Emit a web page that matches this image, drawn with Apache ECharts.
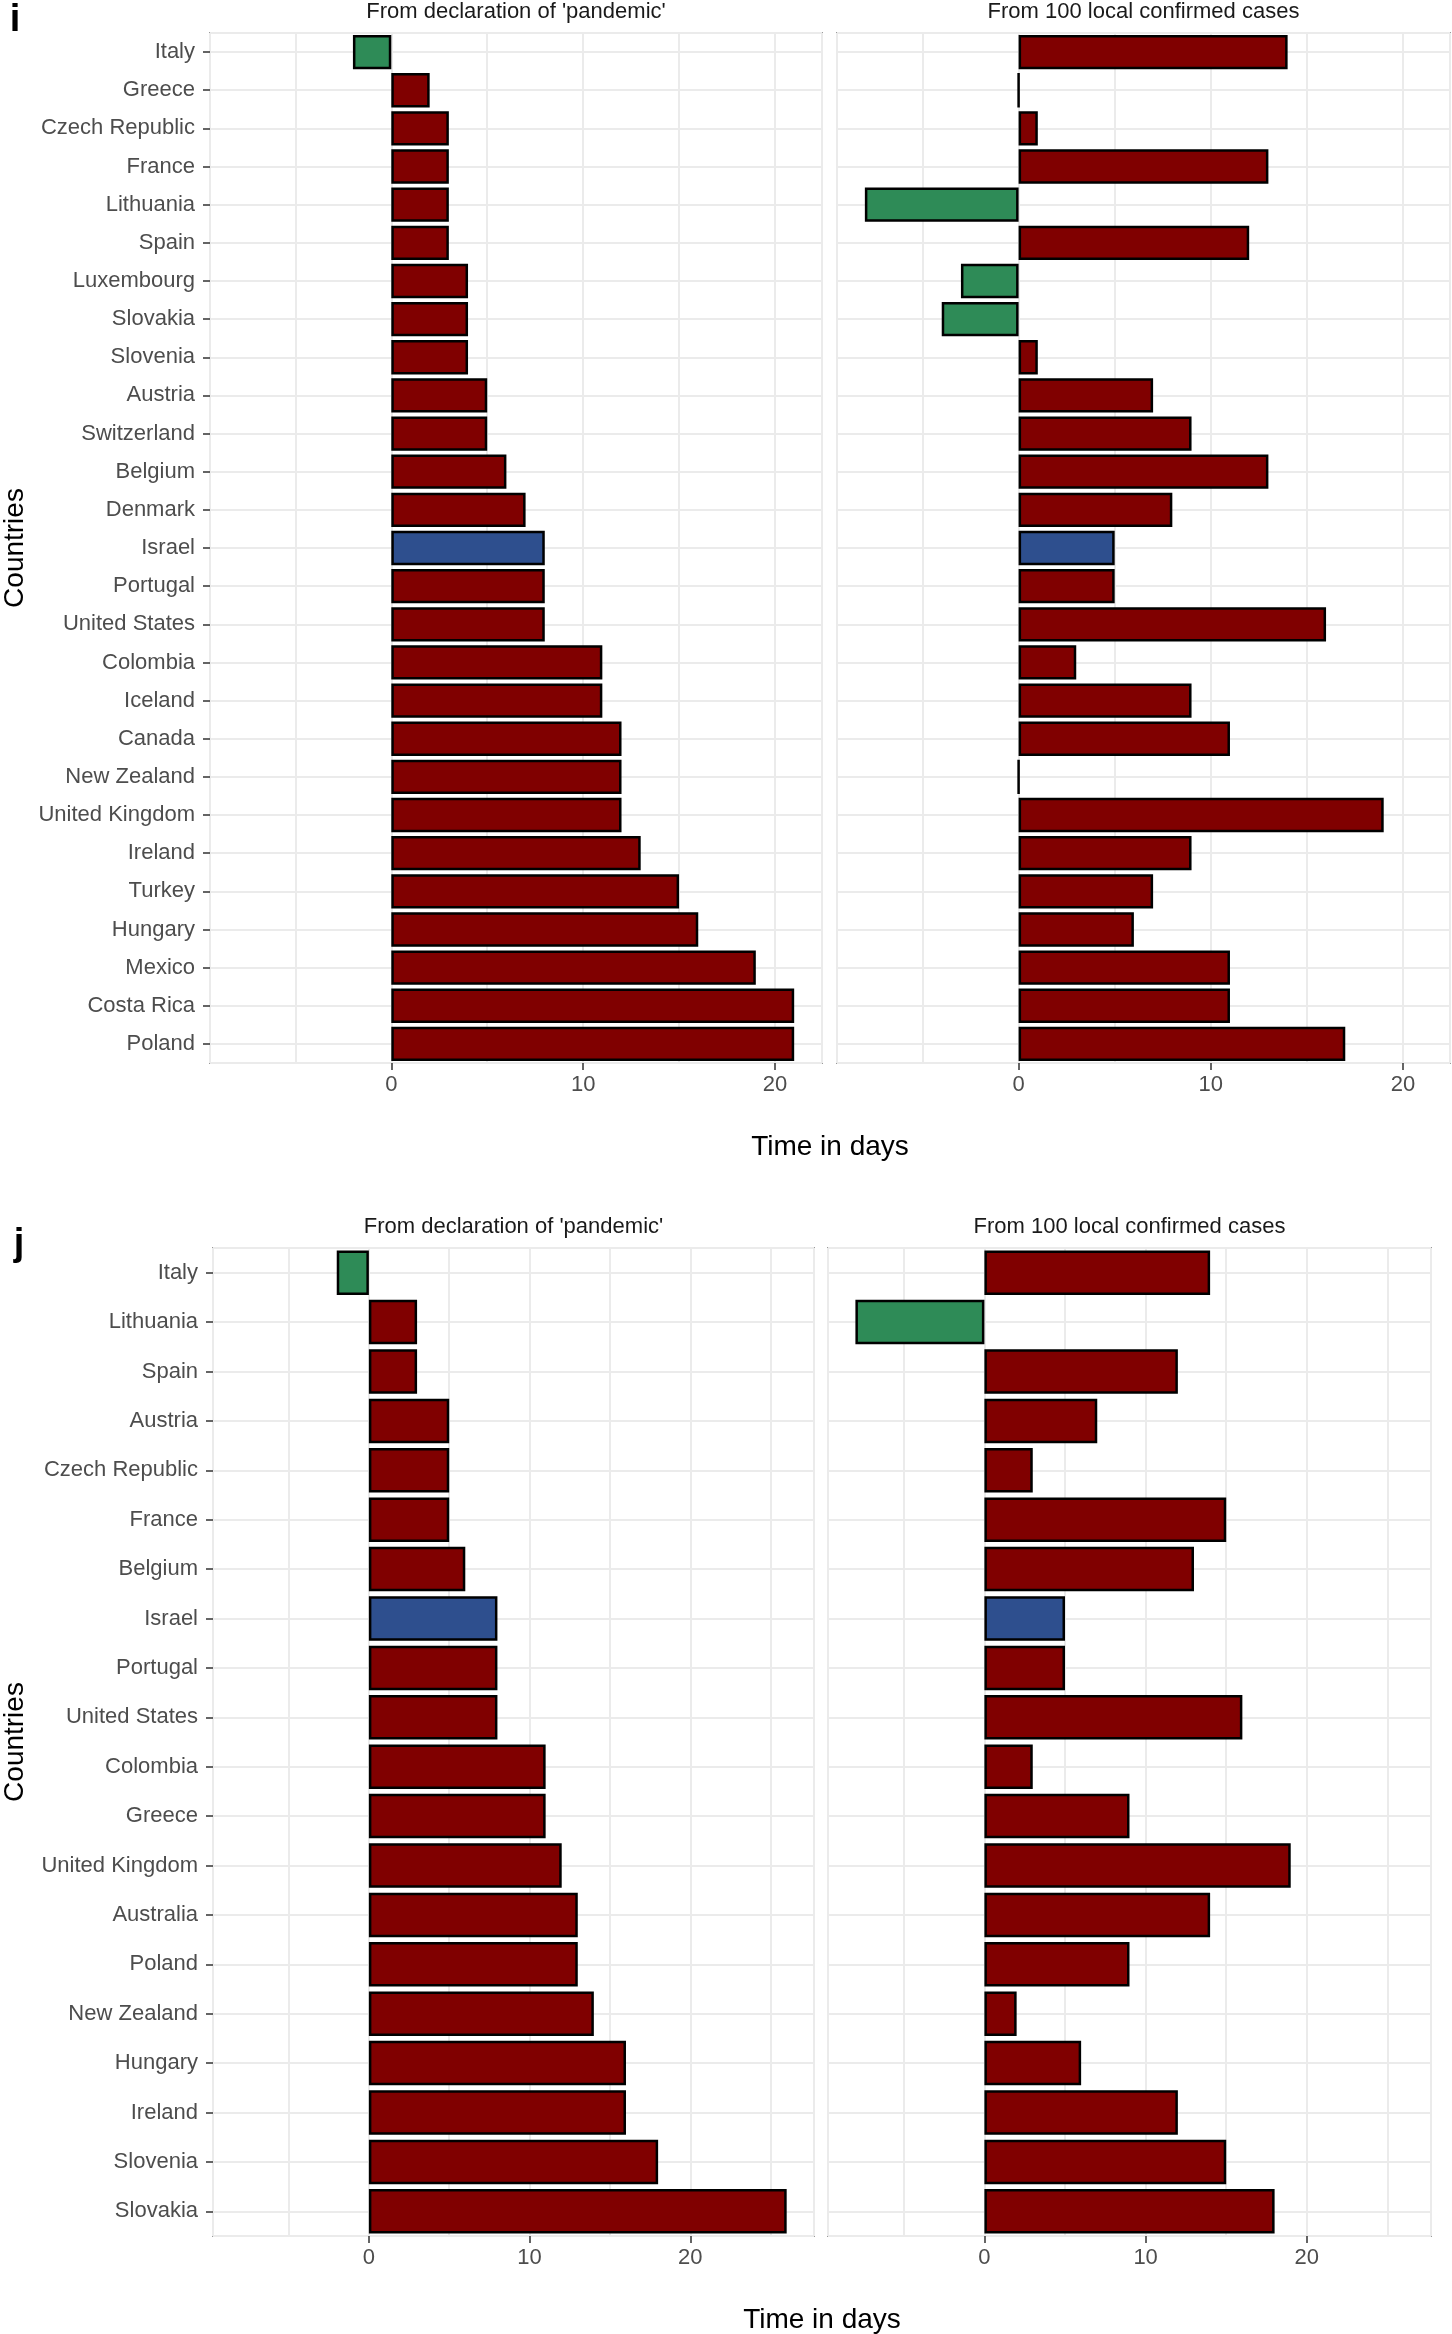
<!DOCTYPE html>
<html>
<head>
<meta charset="utf-8">
<script src="https://cdn.jsdelivr.net/npm/echarts@6/dist/echarts.min.js"></script>
<style>
html,body{margin:0;padding:0;background:#ffffff;}
#chart{width:1452px;height:2334px;}
</style>
</head>
<body>
<div id="chart"></div>
<script>
// ---------------- DATA ----------------
const facetTitles = ["From declaration of 'pandemic'", "From 100 local confirmed cases"];
const xAxisTitle = 'Time in days';
const yAxisTitle = 'Countries';
const tickValues = [0, 10, 20];
const highlightCountry = 'Israel';

// Panel i
const iCountries = ['Italy','Greece','Czech Republic','France','Lithuania','Spain','Luxembourg','Slovakia','Slovenia','Austria','Switzerland','Belgium','Denmark','Israel','Portugal','United States','Colombia','Iceland','Canada','New Zealand','United Kingdom','Ireland','Turkey','Hungary','Mexico','Costa Rica','Poland'];
const iPandemic = [-2,2,3,3,3,3,4,4,4,5,5,6,7,8,8,8,11,11,12,12,12,13,15,16,19,21,21];
const iLocal100 = [14,0,1,13,-8,12,-3,-4,1,7,9,13,8,5,5,16,3,9,11,0,19,9,7,6,11,11,17];

// Panel j
const jCountries = ['Italy','Lithuania','Spain','Austria','Czech Republic','France','Belgium','Israel','Portugal','United States','Colombia','Greece','United Kingdom','Australia','Poland','New Zealand','Hungary','Ireland','Slovenia','Slovakia'];
const jPandemic = [-2,3,3,5,5,5,6,8,8,8,11,11,12,13,13,14,16,16,18,26];
const jLocal100 = [14,-8,12,7,3,15,13,5,5,16,3,9,19,14,9,2,6,12,15,18];

// ---------------- STYLE / LAYOUT ----------------
const FONT = "'Liberation Sans', Arial, Helvetica, sans-serif";
const RED = '#800000', GREEN = '#2E8B57', BLUE = '#2E4F8E';

const panels = [
  {letter:'i', countries:iCountries, leftVals:iPandemic, rightVals:iLocal100,
   top:33, height:1030, lx:210, lw:612, rx:837, rw:613, letterX:15, letterY:21},
  {letter:'j', countries:jCountries, leftVals:jPandemic, rightVals:jLocal100,
   top:1248, height:988, lx:213, lw:601, rx:828, rw:603, letterX:19, letterY:1245}
];

function barData(countries, values){
  return values.map((v,k) => ({
    value: v,
    itemStyle: {color: v < 0 ? GREEN : (countries[k] === highlightCountry ? BLUE : RED)}
  }));
}
function sharedRange(a, b){
  const all = a.concat(b, [0]);
  const lo = Math.min.apply(null, all), hi = Math.max.apply(null, all);
  const pad = (hi - lo) * 0.05;
  return [lo - pad, hi + pad];
}

const grids = [], xAxes = [], yAxes = [], series = [], graphics = [];

panels.forEach(p => {
  const range = sharedRange(p.leftVals, p.rightVals);
  const facets = [
    {x:p.lx, w:p.lw, vals:p.leftVals, title:facetTitles[0], showY:true},
    {x:p.rx, w:p.rw, vals:p.rightVals, title:facetTitles[1], showY:false}
  ];
  facets.forEach(f => {
    const g = grids.length;
    grids.push({left:f.x, top:p.top, width:f.w, height:p.height, show:true,
      borderColor:'#4D4D4D', borderWidth:1.5, backgroundColor:'#ffffff', containLabel:false});
    const xi = xAxes.length;
    xAxes.push({type:'value', gridIndex:g, min:range[0], max:range[1], position:'bottom',
      axisLine:{show:false, onZero:false}, splitLine:{show:false},
      axisTick:{show:true, customValues:tickValues, length:7, lineStyle:{color:'#333333', width:1.5}},
      axisLabel:{customValues:tickValues, formatter: v => (tickValues.indexOf(v) >= 0 ? String(v) : ''),
        color:'#4D4D4D', fontSize:22, fontFamily:FONT, margin:11}});
    xAxes.push({type:'value', gridIndex:g, min:range[0], max:range[1], position:'top', splitNumber:7,
      axisLine:{show:false, onZero:false}, axisTick:{show:false}, axisLabel:{show:false},
      splitLine:{show:true, lineStyle:{color:'#EBEBEB', width:2}}});
    const yi = yAxes.length;
    yAxes.push({type:'category', gridIndex:g, data:p.countries, inverse:true, position:'left',
      axisLine:{show:false, onZero:false}, splitLine:{show:false},
      axisTick:{show:f.showY, alignWithLabel:true, length:7, lineStyle:{color:'#333333', width:1.5}},
      axisLabel:{show:f.showY, interval:0, color:'#4D4D4D', fontSize:22, fontFamily:FONT, margin:15}});
    yAxes.push({type:'value', gridIndex:g, inverse:true, min:-0.5, max:p.countries.length - 0.5,
      splitNumber:p.countries.length, position:'right',
      axisLine:{show:false, onZero:false}, axisTick:{show:false}, axisLabel:{show:false},
      splitLine:{show:true, lineStyle:{color:'#EBEBEB', width:2}}});
    series.push({type:'bar', xAxisIndex:xi, yAxisIndex:yi, data:barData(p.countries, f.vals),
      barWidth:'90%', itemStyle:{borderColor:'#000000', borderWidth:2.5}, silent:true});

    graphics.push({type:'text', x:f.x + f.w/2, y:p.top - 21,
      style:{text:f.title, fontSize:22, fontFamily:FONT, fill:'#1A1A1A', align:'center', verticalAlign:'middle'}});
  });
  graphics.push({type:'text', x:(p.lx + p.rx + p.rw)/2, y:p.top + p.height + 84,
    style:{text:xAxisTitle, fontSize:28, fontFamily:FONT, fill:'#000000', align:'center', verticalAlign:'middle'}});
  graphics.push({type:'text', x:15, y:p.top + p.height/2, rotation:Math.PI/2,
    style:{text:yAxisTitle, fontSize:28, fontFamily:FONT, fill:'#000000', align:'center', verticalAlign:'middle'}});
  graphics.push({type:'text', x:p.letterX, y:p.letterY,
    style:{text:p.letter, fontSize:38, fontWeight:'bold', fontFamily:FONT, fill:'#000000', align:'center', verticalAlign:'middle'}});
});

const chart = echarts.init(document.getElementById('chart'), null, {renderer:'canvas'});
chart.setOption({
  animation:false,
  backgroundColor:'#ffffff',
  grid:grids, xAxis:xAxes, yAxis:yAxes, series:series, graphic:graphics
});
</script>
</body>
</html>
